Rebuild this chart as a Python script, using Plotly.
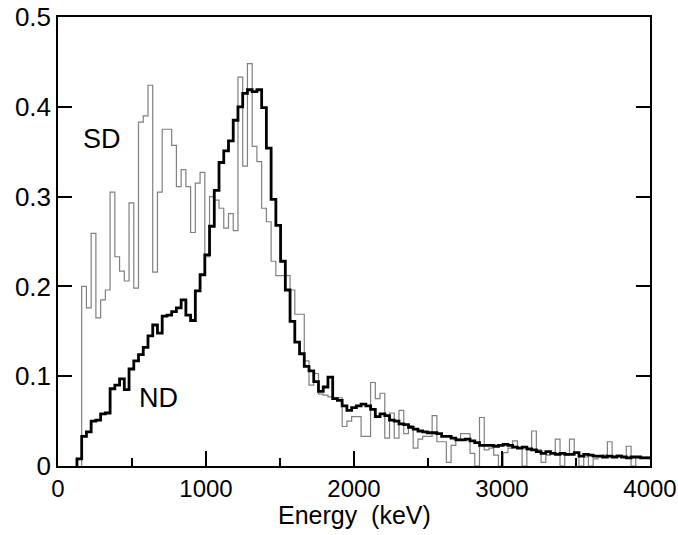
import plotly.graph_objects as go

# Histogram binning (keV)
bin_width = 32
nd_start = 128
sd_start = 160

# ND spectrum (thick black), one value per 32 keV bin starting at 128 keV
nd_values = [
    0.008, 0.033, 0.038, 0.050, 0.051, 0.058, 0.059, 0.086,
    0.090, 0.097, 0.085, 0.108, 0.117, 0.124, 0.132, 0.145,
    0.157, 0.148, 0.167, 0.168, 0.172, 0.176, 0.185, 0.168,
    0.162, 0.195, 0.213, 0.235, 0.267, 0.307, 0.338, 0.351,
    0.362, 0.385, 0.400, 0.415, 0.419, 0.417, 0.419, 0.399,
    0.354, 0.297, 0.268, 0.228, 0.196, 0.161, 0.138, 0.125,
    0.111, 0.106, 0.094, 0.083, 0.088, 0.099, 0.075, 0.073,
    0.067, 0.062, 0.065, 0.067, 0.069, 0.067, 0.063, 0.055,
    0.058, 0.056, 0.051, 0.050, 0.047, 0.046, 0.043, 0.041,
    0.039, 0.038, 0.037, 0.037, 0.036, 0.033, 0.033, 0.031,
    0.029, 0.029, 0.030, 0.028, 0.026, 0.023, 0.023, 0.023,
    0.022, 0.023, 0.024, 0.023, 0.021, 0.020, 0.021, 0.019,
    0.018, 0.016, 0.014, 0.016, 0.014, 0.013, 0.014, 0.013,
    0.013, 0.015, 0.011, 0.013, 0.012, 0.011, 0.011, 0.010,
    0.011, 0.010, 0.011, 0.010, 0.009, 0.010, 0.010, 0.009,
    0.009,
]

# SD spectrum (thin gray), one value per 32 keV bin starting at 160 keV
sd_values = [
    0.200, 0.176, 0.259, 0.165, 0.185, 0.196, 0.305, 0.233,
    0.217, 0.206, 0.293, 0.198, 0.383, 0.390, 0.424, 0.216,
    0.305, 0.375, 0.375, 0.357, 0.311, 0.330, 0.311, 0.260,
    0.315, 0.327, 0.233, 0.300, 0.296, 0.287, 0.265, 0.281,
    0.262, 0.433, 0.334, 0.448, 0.356, 0.339, 0.287, 0.272,
    0.228, 0.212, 0.212, 0.212, 0.196, 0.169, 0.169, 0.117,
    0.090, 0.103, 0.080, 0.079, 0.077, 0.076, 0.076, 0.044,
    0.050, 0.055, 0.055, 0.033, 0.033, 0.093, 0.075, 0.081,
    0.031, 0.059, 0.031, 0.062, 0.036, 0.045, 0.020, 0.030,
    0.033, 0.033, 0.056, 0.027, 0.027, 0.004, 0.023, 0.030,
    0.036, 0.036, 0.014, 0.000, 0.054, 0.018, 0.020, 0.012,
    0.000, 0.015, 0.020, 0.028, 0.020, 0.000, 0.018, 0.039,
    0.018, 0.004, 0.012, 0.014, 0.030, 0.000, 0.012, 0.030,
    0.014, 0.000, 0.010, 0.000, 0.008, 0.010, 0.012, 0.027,
    0.010, 0.012, 0.010, 0.022, 0.000, 0.010, 0.010, 0.010,
]

x_ticks = [0, 1000, 2000, 3000, 4000]
y_ticks = [0, 0.1, 0.2, 0.3, 0.4, 0.5]
y_tick_labels = ["0", "0.1", "0.2", "0.3", "0.4", "0.5"]
x_title = "Energy  (keV)"


def step_xy(start, values):
    xs = [start] + [start + i * bin_width for i in range(len(values))] + [start + len(values) * bin_width]
    ys = [0] + list(values) + [values[-1]]
    return xs, ys


sd_x, sd_y = step_xy(sd_start, sd_values)
nd_x, nd_y = step_xy(nd_start, nd_values)

fig = go.Figure()
fig.add_trace(go.Scatter(x=sd_x, y=sd_y, mode="lines", line=dict(shape="hv", color="#808080", width=1.2),
                         name="SD", showlegend=False))
fig.add_trace(go.Scatter(x=nd_x, y=nd_y, mode="lines", line=dict(shape="hv", color="#000000", width=2.8),
                         name="ND", showlegend=False))

font = "Liberation Sans, Arial, Helvetica, sans-serif"

fig.add_annotation(x=297, y=0.364, xref="x", yref="y", text="SD", showarrow=False,
                   font=dict(family=font, size=27, color="black"))
fig.add_annotation(x=682, y=0.0757, xref="x", yref="y", text="ND", showarrow=False,
                   font=dict(family=font, size=27, color="black"))
# x-axis title
fig.add_annotation(x=0.5, y=-0.11, xref="paper", yref="paper", text=x_title, showarrow=False,
                   xanchor="center", yanchor="middle",
                   font=dict(family=font, size=25, color="black"))

fig.update_layout(
    width=678, height=535,
    margin=dict(l=58, r=28, t=17, b=69, autoexpand=False),
    paper_bgcolor="white", plot_bgcolor="white",
    font=dict(family=font, size=25, color="black"),
)
fig.update_xaxes(
    range=[0, 4000], tickvals=x_ticks, tickformat="d", automargin=False,
    ticklabeloverflow="allow",
    ticks="inside", ticklen=15, tickwidth=1.5, tickcolor="black",
    minor=dict(dtick=500, ticks="inside", ticklen=8, tickwidth=1.5, tickcolor="black"),
    showline=True, linewidth=1.5, linecolor="black", mirror=True,
    showgrid=False, zeroline=False,
    tickfont=dict(size=24),
)
fig.update_yaxes(
    range=[0, 0.5], tickvals=y_ticks, ticktext=y_tick_labels, automargin=False,
    ticks="inside", ticklen=14, tickwidth=1.5, tickcolor="black",
    showline=True, linewidth=1.5, linecolor="black", mirror="ticks",
    showgrid=False, zeroline=False,
    tickfont=dict(size=26),
)

fig.write_html("out.html")
